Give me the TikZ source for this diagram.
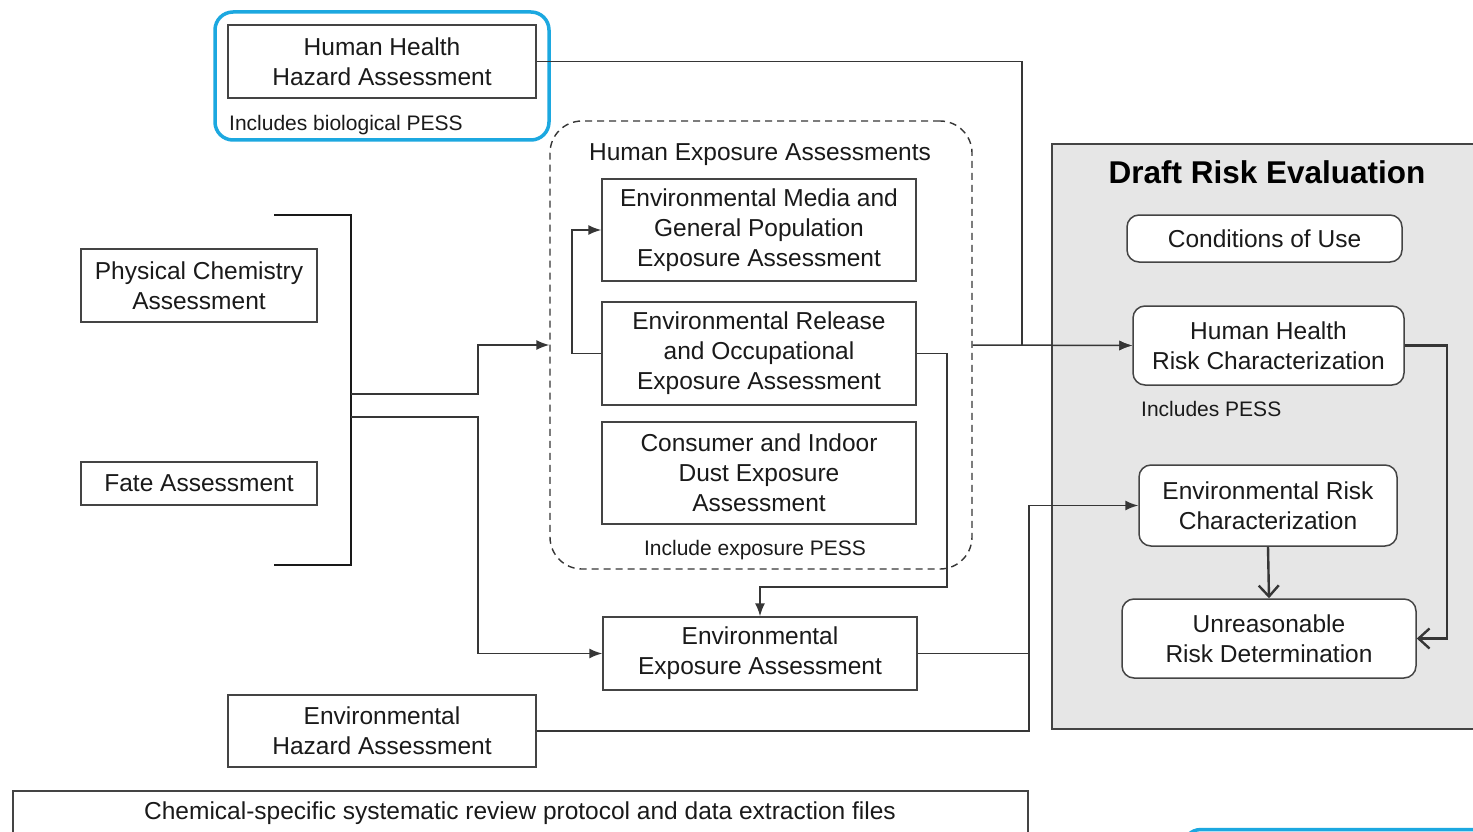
\documentclass[tikz,border=0pt]{standalone}
\usepackage{fontspec}
\setmainfont{Liberation Sans}
\usetikzlibrary{arrows.meta}
\definecolor{boxline}{HTML}{444444}
\definecolor{conline}{HTML}{363636}
\definecolor{hl}{HTML}{1CA8E0}
\definecolor{panel}{HTML}{E6E6E6}
\definecolor{txt}{HTML}{1A1A1A}
\newcommand\dgmain{\fontsize{24.5}{30}\selectfont}
\newcommand\dgsmall{\fontsize{21}{24}\selectfont}
\newcommand\dgtitle{\fontsize{31.5}{36}\selectfont\bfseries}
\begin{document}
\begin{tikzpicture}[x=1pt,y=-1pt,
  box/.style={draw=boxline,line width=1.5pt,fill=white,inner sep=0pt,align=center,font=\dgmain,text=txt},
  rbox/.style={box,rounded corners=12pt},
  conn/.style={draw=conline,line width=1.5pt},
  arr/.style={conn,-{Latex[length=13pt,width=10pt]}},
  barb/.style={conn,line width=2.4pt,-{Straight Barb[length=11pt,width=20pt,line width=2.4pt]}},
  small/.style={font=\dgsmall,text=txt,inner sep=0pt},
  label/.style={font=\dgmain,text=txt,inner sep=0pt,align=center}]
\useasboundingbox (0,0) rectangle (1473,832);
\clip (0,0) rectangle (1473,832);
\fill[white] (0,0) rectangle (1473,832);

% Draft risk evaluation panel
\draw[draw=boxline,fill=panel,line width=1.5pt] (1052,144) rectangle (1500,729);
\node[font=\dgtitle,text=black,inner sep=0pt] (dre) at (1267,172) {Draft Risk Evaluation};

% highlight frames
\draw[hl,line width=3.5pt,rounded corners=18pt] (215,12) rectangle (549,140);
\draw[hl,line width=3.5pt,rounded corners=18pt] (1183,829.5) rectangle (1540,900);

% left column
\node[box,minimum width=308pt,minimum height=73pt] (hhha) at (382,61.5) {Human Health\\Hazard Assessment};
\node[small,anchor=west] (hhhap) at (229,125) {Includes biological PESS};
\node[box,minimum width=236pt,minimum height=73pt] (pc) at (199,285.5) {Physical Chemistry\\Assessment};
\node[box,minimum width=236pt,minimum height=43pt] (fate) at (199,483.5) {Fate Assessment};
\node[box,minimum width=308pt,minimum height=72pt] (eha) at (382,731) {Environmental\\Hazard Assessment};

% bracket
\draw[black!90,line width=2.8pt] (274,215) -| (351,565) -- (274,565);
\coordinate (brk1) at (351,394);
\coordinate (brk2) at (351,417);

% human exposure assessments
\node[draw=conline,dash pattern=on 7pt off 5pt,line width=1.4pt,rounded corners=32pt,minimum width=422pt,minimum height=448pt,inner sep=0pt] (hea) at (761,345) {};
\node[label] (heat) at (760,155) {Human Exposure Assessments};
\node[box,minimum width=314pt,minimum height=102pt] (emgp) at (759,230) {Environmental Media and\\General Population\\Exposure Assessment};
\node[box,minimum width=314pt,minimum height=103pt] (ero) at (759,353.5) {Environmental Release\\and Occupational\\Exposure Assessment};
\node[box,minimum width=314pt,minimum height=102pt] (cide) at (759,473) {Consumer and Indoor\\Dust Exposure\\Assessment};
\node[small] (heap) at (755,550) {Include exposure PESS};

\node[box,minimum width=314pt,minimum height=73pt] (eea) at (760,653.5) {Environmental\\Exposure Assessment};

% right panel boxes
\node[rbox,minimum width=275pt,minimum height=47pt] (cou) at (1264.5,238.5) {Conditions of Use};
\node[rbox,minimum width=271pt,minimum height=79pt] (hhrc) at (1268.5,345.5) {Human Health\\Risk Characterization};
\node[small,anchor=west] (hhrcp) at (1141,409) {Includes PESS};
\node[rbox,minimum width=258pt,minimum height=81pt] (erc) at (1268,505.5) {Environmental Risk\\Characterization};
\node[rbox,minimum width=294pt,minimum height=79pt] (urd) at (1269,638.5) {Unreasonable\\Risk Determination};

% bottom box
\draw[boxline,line width=1.5pt] (13,850) |- (1028,791) -- (1028,850);
\node[label,font=\fontsize{24.5}{28}\selectfont] (prot) at (520,813) {Chemical-specific systematic review protocol and data extraction files};

% connectors
\draw[arr] (hhha.east) -- (1022,61.5) |- (hhrc.west);
\draw[arr] (hea.east) -- (hhrc.west);
\draw[arr] (brk1) -- (478,394) |- (hea.west);
\draw[arr] (brk2) -- (478,417) |- (eea.west);
\draw[arr] (ero.west) -- (572,353.5) |- (emgp.west);
\draw[arr] (ero.east) -- (947,353.5) -- (947,587) -| (eea.north);
\draw[arr] (eea.east) -- (1029,653.5) |- (erc.west);
\draw[conn] (eha.east) -| (1029,653.5);
\draw[barb] (erc.south) -- (urd.north);
\draw[barb] (hhrc.east) -- (1447,345.5) |- (urd.east);
\end{tikzpicture}
\end{document}
